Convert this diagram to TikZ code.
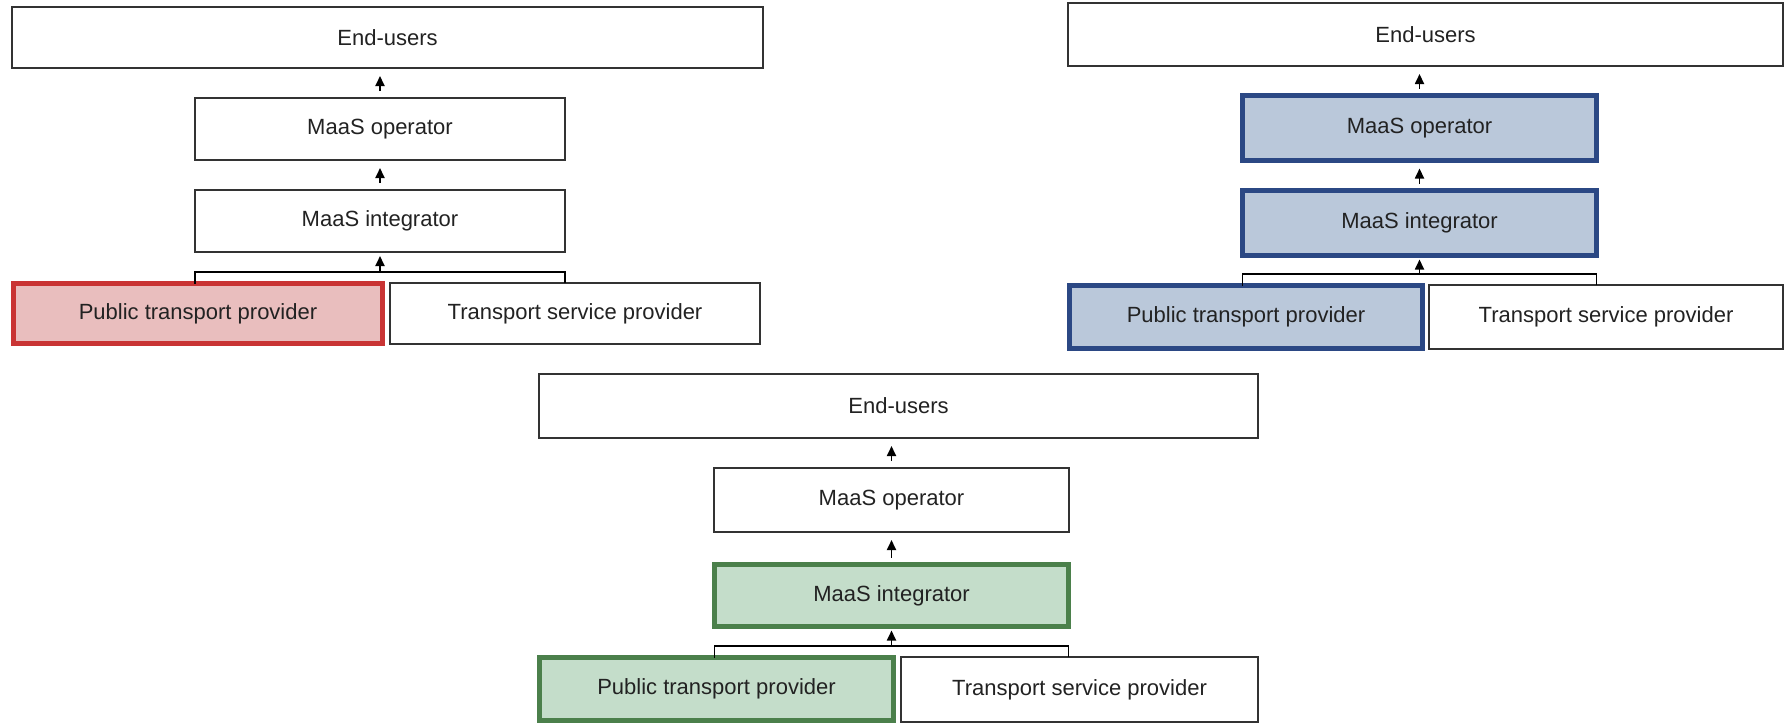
\documentclass[tikz,border=0pt]{standalone}
\usepackage{fontspec}
\setmainfont{Liberation Sans}
\usetikzlibrary{arrows.meta}
\definecolor{txt}{HTML}{222222}
\definecolor{edge}{HTML}{333333}
\definecolor{redB}{HTML}{C93434}
\definecolor{redF}{HTML}{E9BEBE}
\definecolor{blueB}{HTML}{2B4884}
\definecolor{blueF}{HTML}{BAC8DA}
\definecolor{greenB}{HTML}{4B804B}
\definecolor{greenF}{HTML}{C4DDCA}
\tikzset{
  box/.style={draw=edge, line width=2pt, fill=white, inner sep=0pt, outer sep=0pt,
    text=txt, font=\fontsize{22}{26}\selectfont},
  redbox/.style={box, draw=redB, fill=redF, line width=5pt},
  bluebox/.style={box, draw=blueB, fill=blueF, line width=5pt},
  greenbox/.style={box, draw=greenB, fill=greenF, line width=5pt},
  conn/.style={draw=black, line width=1.8pt},
  arr/.style={conn, -{Triangle[width=9pt,length=10pt]}},
  gaparr/.style={arr, shorten <=7pt, shorten >=8pt},
  brarr/.style={arr, shorten >=4pt}
}
\begin{document}
\begin{tikzpicture}[x=1pt,y=-1pt]
\useasboundingbox (0,0) rectangle (1787,724);
% ---------- Panel 1 ----------
\node[box, minimum width=751, minimum height=61] (eu1) at (387.5,37.5) {End-users};
\node[box, minimum width=370, minimum height=62] (op1) at (380,129) {MaaS operator};
\node[box, minimum width=370, minimum height=62] (in1) at (380,221) {MaaS integrator};
\node[redbox, minimum width=369, minimum height=60] (pt1) at (198,313.5) {Public transport provider};
\node[box, minimum width=370, minimum height=61] (ts1) at (575,313.5) {Transport service provider};
\coordinate (j1) at (380,272);
\draw[conn] (in1.west |- pt1.north) |- (j1) -| (in1.east |- ts1.north);
\draw[brarr] (j1) -- (in1.south);
\draw[gaparr] (in1.north) -- (op1.south);
\draw[gaparr] (op1.north) -- (op1.north |- eu1.south);
% ---------- Panel 2 ----------
\node[box, minimum width=715, minimum height=63] (eu2) at (1425.5,34.5) {End-users};
\node[bluebox, minimum width=354, minimum height=65] (op2) at (1419.5,128) {MaaS operator};
\node[bluebox, minimum width=354, minimum height=65] (in2) at (1419.5,223) {MaaS integrator};
\node[bluebox, minimum width=353, minimum height=63] (pt2) at (1246,317) {Public transport provider};
\node[box, minimum width=354, minimum height=64] (ts2) at (1606,317) {Transport service provider};
\coordinate (j2) at (1419.5,274);
\draw[conn] (in2.west |- pt2.north) |- (j2) -| (in2.east |- ts2.north);
\draw[brarr] (j2) -- (in2.south);
\draw[gaparr] (in2.north) -- (op2.south);
\draw[gaparr] (op2.north) -- (op2.north |- eu2.south);
% ---------- Panel 3 ----------
\node[box, minimum width=719, minimum height=64] (eu3) at (898.5,406) {End-users};
\node[box, minimum width=355, minimum height=64] (op3) at (891.5,500) {MaaS operator};
\node[greenbox, minimum width=354, minimum height=62] (in3) at (891.5,595.5) {MaaS integrator};
\node[greenbox, minimum width=354, minimum height=63] (pt3) at (716.5,689) {Public transport provider};
\node[box, minimum width=357, minimum height=65] (ts3) at (1079.5,689.5) {Transport service provider};
\coordinate (j3) at (891.5,646);
\draw[conn] (in3.west |- pt3.north) |- (j3) -| (in3.east |- ts3.north);
\draw[brarr] (j3) -- (in3.south);
\draw[gaparr] (in3.north) -- (op3.south);
\draw[gaparr] (op3.north) -- (op3.north |- eu3.south);
\end{tikzpicture}
\end{document}
